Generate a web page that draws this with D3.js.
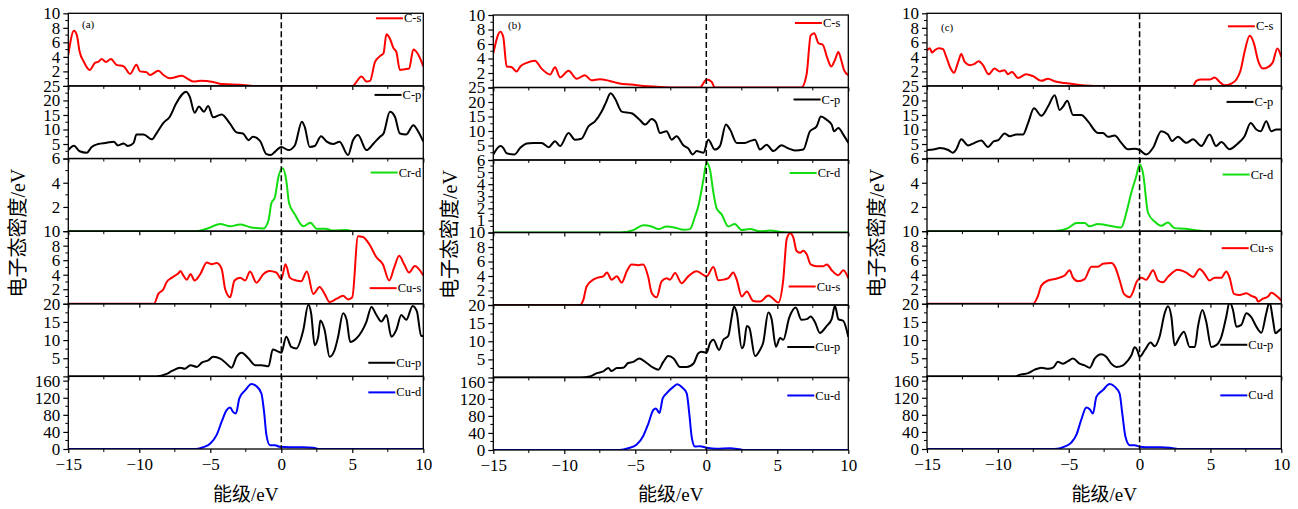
<!DOCTYPE html>
<html>
<head>
<meta charset="utf-8">
<script src="https://cdn.jsdelivr.net/npm/d3@7"></script>
<style>
  body { margin: 0; background: #fff; }
  svg { display: block; }
</style>
</head>
<body>
<svg id="chart"></svg>
<script>
// energy axis
const energyDomain = [-15, 10];
const xTicks = [-15, -10, -5, 0, 5, 10];
const xMinorTicks = [-12.5, -7.5, -2.5, 2.5, 7.5];

const orbitals = ["C-s", "C-p", "Cr-d", "Cu-s", "Cu-p", "Cu-d"];
const colors = ["#ff0000", "#000000", "#11dd11", "#ff0000", "#000000", "#0000ff"];
const yMax = [10, 25, 6, 10, 20, 170];
const yStepA = [2, 5, 2, 2, 5, 40];
const yStepB = [2, 5, 1, 2, 5, 40];

// ---- panel (a) ----
const csA = [[-15,4.3],[-14.6,7.6],[-14.4,7.0],[-14.2,4.7],[-13.9,3.3],[-13.5,2.2],[-13.1,3.2],[-12.9,3.3],[-12.65,3.7],[-12.35,3.3],[-12.0,3.7],[-11.6,2.9],[-11.1,2.7],[-10.65,1.65],[-10.2,2.9],[-9.95,2.0],[-9.5,1.9],[-9.25,1.5],[-8.65,2.1],[-8.3,1.5],[-7.85,1.05],[-7.0,1.4],[-6.65,1.05],[-6.2,0.6],[-5.7,0.7],[-4.8,0.55],[-4.2,0.25],[-3.4,0.2],[-2.55,0.1],[-2.0,0],[5.0,0],[5.65,1.3],[6.0,0.6],[6.25,0.7],[6.6,3.3],[6.95,4.1],[7.2,4.5],[7.4,7.1],[7.65,6.5],[7.9,5.2],[8.1,4.7],[8.35,2.2],[8.7,2.3],[9.0,2.4],[9.3,5.0],[9.65,4.3],[10,2.7]];
const cpA = [[-15,2.9],[-14.6,4.4],[-14.2,2.5],[-13.7,2.0],[-13.35,4.0],[-12.9,5.0],[-12.3,5.4],[-11.8,5.8],[-11.5,4.5],[-11.1,5.2],[-10.8,4.3],[-10.4,5.4],[-10.2,8.3],[-9.7,8.3],[-9.1,6.6],[-8.8,8.6],[-8.3,12.3],[-7.85,14.4],[-7.4,19],[-6.7,23],[-6.45,21.3],[-6.1,15.8],[-5.8,17.9],[-5.45,16.1],[-5.15,18.1],[-4.8,14.2],[-4.2,15.2],[-3.6,11.9],[-3.15,9.0],[-2.7,8.6],[-2.3,6.3],[-2.0,7.5],[-1.5,6.1],[-1.05,1.5],[-0.75,1.2],[-0.45,2.3],[0.0,4.0],[0.5,2.9],[0.95,4.5],[1.45,12.7],[1.65,10.9],[2.0,4.0],[2.35,4.3],[2.8,7.7],[3.2,5.8],[3.65,5.0],[4.1,5.8],[4.7,1.2],[5.05,6.3],[5.4,8.1],[6.0,2.9],[6.5,5.2],[6.95,7.5],[7.2,8.6],[7.65,16.1],[8.0,14.4],[8.35,8.6],[8.8,8.3],[9.3,11.5],[9.65,9.2],[10,5.8]];
const crdA = [[-15,0],[-6.0,0],[-5.25,0.2],[-4.3,0.6],[-3.6,0.4],[-2.9,0.55],[-2.2,0.33],[-1.25,0.22],[-0.9,0.9],[-0.7,2.3],[-0.45,2.8],[-0.2,4.5],[0.1,5.2],[0.35,4.2],[0.55,2.3],[0.95,1.4],[1.55,0.4],[2.05,0.7],[2.5,0.2],[3.1,0.2],[3.65,0.05],[4.6,0.1],[5.0,0],[10,0]];
const cusA = [[-15,0],[-8.97,0],[-8.66,1.36],[-8.3,2.0],[-8.07,3.0],[-7.7,3.6],[-7.25,4.2],[-7.1,4.5],[-6.9,3.9],[-6.65,3.3],[-6.4,4.1],[-6.1,3.2],[-5.7,4.1],[-5.25,5.7],[-4.9,5.45],[-4.55,5.6],[-4.2,4.8],[-3.95,2.0],[-3.6,0.9],[-3.3,3.2],[-2.9,3.6],[-2.55,3.2],[-2.2,4.45],[-1.75,2.9],[-1.25,4.1],[-0.85,4.5],[-0.35,4.3],[0,3.4],[0.3,5.45],[0.6,3.6],[1.05,3.2],[1.4,3.1],[1.8,4.45],[2.25,1.36],[2.7,2.3],[3.05,1.36],[3.4,0.23],[3.9,0.7],[4.35,1.1],[4.7,0.6],[5.0,0.9],[5.4,9.3],[5.75,9.2],[6.2,8.2],[6.7,6.4],[7.15,5.45],[7.6,3.2],[7.95,5.0],[8.3,6.6],[8.65,5.45],[9.0,4.3],[9.4,5.2],[10,3.9]];
const cupA = [[-15,0],[-8.8,0],[-8.07,0.7],[-7.7,1.5],[-7.1,2.4],[-6.8,2.1],[-6.4,3.1],[-5.95,2.6],[-5.6,3.8],[-5.15,4.4],[-4.8,5.4],[-4.3,4.9],[-3.85,3.5],[-3.5,2.4],[-3.15,5.4],[-2.8,6.5],[-2.3,4.9],[-1.85,3.1],[-1.4,3.1],[-0.9,2.8],[-0.6,7.4],[-0.25,6.9],[0,6.5],[0.35,10.9],[0.7,8.1],[1.05,7.7],[1.55,12.8],[1.9,19.7],[2.1,17.4],[2.35,8.6],[2.6,10.9],[2.75,15.4],[3.05,12.8],[3.4,5.4],[3.75,7.2],[4.0,10.9],[4.35,17.4],[4.6,15.6],[4.85,9.5],[5.3,10.5],[5.65,12.3],[6.0,15.1],[6.35,19.1],[6.7,16.9],[7.05,15.1],[7.4,16.9],[7.75,10.9],[8.1,12.8],[8.45,16.9],[8.8,15.6],[9.25,19.4],[9.55,17.9],[9.85,11.1],[10,11.1]];
const cudA = [[-15,0],[-6.0,0],[-5.5,4],[-5.0,13],[-4.55,33],[-4.2,64],[-3.85,91],[-3.6,97],[-3.4,87],[-3.2,83],[-2.95,119],[-2.55,137],[-2.1,152],[-1.75,147],[-1.4,130],[-1.2,83],[-1.05,33],[-0.8,9],[-0.45,9],[-0.1,5],[0.6,4],[1.55,4],[2.25,3],[2.7,0],[10,0]];

// ---- panel (b) ----
const csB = [[-15,4.7],[-14.5,7.7],[-14.3,7.0],[-14.06,2.9],[-13.7,2.8],[-13.36,2.2],[-13.1,2.9],[-12.65,3.4],[-12.07,3.7],[-11.6,2.6],[-11.0,1.8],[-10.65,2.8],[-10.3,1.4],[-9.7,2.3],[-9.13,1.2],[-8.55,1.7],[-8.1,1.0],[-7.5,1.15],[-6.8,0.9],[-6.1,0.55],[-5.26,0.4],[-4.4,0.2],[-3.5,0.1],[-2.3,0],[-0.45,0],[0.02,1.1],[0.37,0.8],[0.6,0],[6.7,0],[7.07,1.9],[7.35,7.2],[7.6,7.5],[7.9,6.1],[8.2,5.9],[8.5,4.2],[8.8,2.9],[9.06,3.8],[9.3,4.9],[9.5,3.8],[9.7,2.4],[10,1.7]];
const cpB = [[-15,1.9],[-14.5,4.8],[-14.3,4.2],[-14.06,2.3],[-13.5,1.9],[-13.1,4.2],[-12.65,5.7],[-12.2,5.9],[-11.6,5.9],[-11.1,4.4],[-10.65,6.5],[-10.3,4.8],[-9.7,9.3],[-9.25,7.0],[-8.8,7.3],[-8.3,11.6],[-7.84,13.3],[-7.37,16.7],[-7.07,19.8],[-6.74,23],[-6.43,21.2],[-5.96,16.7],[-5.26,16.1],[-4.7,13.9],[-4.3,12.2],[-3.85,14.1],[-3.55,13.0],[-3.26,9.3],[-2.8,9.9],[-2.44,7.0],[-2.1,8.2],[-1.6,5.0],[-1.27,4.0],[-0.96,1.9],[-0.68,3.1],[-0.2,2.5],[0.14,7.0],[0.6,3.6],[0.96,4.8],[1.38,12.2],[1.67,10.5],[2.14,5.9],[2.72,5.9],[3.07,6.5],[3.43,7.0],[3.78,3.6],[4.25,5.3],[4.72,3.1],[5.3,5.1],[5.77,4.0],[6.24,3.3],[6.83,3.6],[7.3,9.9],[7.77,11.6],[8.07,15],[8.47,13.9],[8.83,12.2],[9.0,9.9],[9.3,11.0],[9.65,8.75],[10,5.9]];
const crdB = [[-15,0],[-6.1,0],[-5.14,0.2],[-4.44,0.6],[-3.85,0.5],[-3.38,0.28],[-2.8,0.5],[-2.2,0.4],[-1.6,0.22],[-1.15,0.28],[-0.8,1.3],[-0.56,2.2],[-0.2,4.4],[0.02,5.8],[0.26,5.2],[0.5,3.3],[0.73,2.0],[1.08,1.5],[1.55,0.5],[2.0,0.7],[2.5,0.2],[3.08,0.28],[3.78,0.1],[4.5,0.16],[5.2,0.05],[5.66,0],[10,0]];
const cusB = [[-15,0],[-8.9,0],[-8.66,0.7],[-8.43,2.56],[-7.96,3.5],[-7.6,3.8],[-7.25,3.95],[-7.0,4.5],[-6.67,3.5],[-6.3,3.95],[-5.96,3.1],[-5.6,4.65],[-5.26,5.6],[-4.8,5.5],[-4.44,5.6],[-4.1,3.95],[-3.85,1.7],[-3.5,1.07],[-3.15,3.26],[-2.8,3.7],[-2.56,3.5],[-2.2,4.4],[-1.74,3.0],[-1.27,3.95],[-0.68,4.65],[0.02,3.95],[0.5,5.25],[0.85,3.4],[1.2,3.5],[1.55,3.7],[1.9,4.5],[2.14,3.5],[2.5,1.16],[2.85,1.86],[3.3,0.56],[3.78,0.47],[4.37,1.3],[4.72,0.84],[5.07,0.33],[5.42,3.5],[5.66,9.07],[5.9,9.9],[6.13,9.3],[6.36,7.44],[6.6,7.2],[6.83,7.5],[7.07,7.0],[7.35,5.6],[7.77,5.35],[8.24,5.35],[8.5,5.6],[8.83,4.8],[9.3,4.1],[9.65,4.8],[10,3.7]];
const cupB = [[-15,0],[-8.9,0],[-8.2,0.3],[-7.7,1.2],[-7.25,1.7],[-6.9,2.6],[-6.67,1.8],[-6.3,2.6],[-5.85,2.7],[-5.5,4.0],[-5.14,4.3],[-4.72,5.26],[-4.2,4.0],[-3.73,2.7],[-3.38,2.16],[-3.03,4.3],[-2.68,5.9],[-2.3,5.26],[-1.85,2.9],[-1.38,2.9],[-0.9,3.85],[-0.56,6.7],[-0.33,7.1],[0.02,6.85],[0.26,9.5],[0.5,10.4],[0.9,7.6],[1.2,10.4],[1.55,11.5],[1.78,16.5],[1.95,19.6],[2.14,17.9],[2.5,8.1],[2.65,9.0],[2.85,14.2],[3.03,13.7],[3.43,5.9],[3.78,7.6],[4.0,9.5],[4.37,17.9],[4.6,16.1],[4.9,8.5],[5.2,10.9],[5.42,10.4],[5.84,16.5],[6.3,19.3],[6.7,15.9],[7.07,16.1],[7.35,16.8],[7.65,15.3],[8.0,12.3],[8.47,14.2],[8.83,16.1],[9.06,19.8],[9.3,16.1],[9.65,15.6],[10,11.2]];
const cudB = [[-15,0],[-6.1,0],[-5.5,4],[-4.9,13],[-4.44,33],[-4.08,62],[-3.73,94],[-3.55,97.5],[-3.3,87],[-3.07,121],[-2.8,133],[-2.32,148],[-2.04,154],[-1.74,148],[-1.38,133],[-1.2,86],[-1.03,31],[-0.8,8],[-0.45,9],[0.02,5.5],[0.73,3],[1.67,4],[2.37,1.5],[2.72,0],[10,0]];

// ---- panel (c) ----
const csC = [[-15,4.9],[-14.8,5.2],[-14.65,4.6],[-14.46,4.9],[-14.18,5.2],[-13.87,5.07],[-13.64,4.0],[-13.33,2.4],[-13.1,1.8],[-12.8,3.3],[-12.58,4.4],[-12.34,3.3],[-11.99,2.86],[-11.68,3.0],[-11.35,3.4],[-11.05,2.86],[-10.65,1.6],[-10.23,2.4],[-9.87,2.0],[-9.52,2.16],[-9.29,1.6],[-9.0,1.93],[-8.58,1.1],[-8.0,1.6],[-7.52,1.34],[-6.93,0.7],[-6.46,1.0],[-6.0,0.65],[-5.3,0.4],[-4.6,0.23],[-3.88,0.05],[-3.17,0],[3.77,0],[4.0,0.7],[4.36,0.88],[4.94,0.88],[5.3,1.15],[5.65,0.55],[6.0,0.1],[6.47,0.32],[6.83,0.88],[7.13,2.16],[7.41,4.7],[7.77,6.9],[8.07,5.85],[8.35,3.55],[8.7,2.4],[9.06,2.6],[9.41,3.3],[9.72,5.16],[10,4.0]];
const cpC = [[-15,2.94],[-14.46,3.2],[-14.1,3.6],[-13.5,2.94],[-13.17,2.0],[-12.93,3.2],[-12.58,6.6],[-12.1,4.5],[-11.64,5.4],[-11.17,6.2],[-10.7,4.0],[-10.27,6.0],[-9.99,6.3],[-9.52,8.6],[-9.17,7.7],[-8.7,8.26],[-8.23,8.26],[-7.87,12.2],[-7.45,17.3],[-6.93,14.7],[-6.46,17.9],[-5.99,21.8],[-5.64,16.7],[-5.4,17.9],[-5.1,19.9],[-4.7,15.0],[-4.11,15.0],[-3.64,12.8],[-2.94,8.8],[-2.58,8.8],[-2.23,7.5],[-1.76,7.9],[-1.29,5.4],[-0.82,3.2],[-0.35,3.4],[0.0,2.94],[0.47,1.36],[0.95,3.7],[1.53,9.4],[2.0,8.26],[2.29,6.0],[2.7,7.5],[3.3,5.4],[3.77,6.6],[4.36,4.3],[4.94,8.26],[5.4,4.3],[5.77,5.7],[6.35,3.2],[6.94,5.2],[7.41,7.7],[7.84,12.2],[8.24,10.0],[8.54,9.4],[8.94,12.8],[9.29,9.4],[9.65,10.0],[10,10.0]];
const crdC = [[-15,0],[-6.0,0],[-5.05,0.25],[-4.46,0.67],[-3.88,0.67],[-3.52,0.4],[-2.94,0.6],[-2.23,0.47],[-1.3,0.3],[-0.94,1.5],[-0.58,3.2],[-0.23,4.55],[0.0,5.5],[0.24,4.8],[0.6,1.5],[1.06,0.8],[1.53,0.44],[2.0,0.72],[2.47,0.25],[3.18,0.2],[4.12,0.05],[4.6,0],[10,0]];
const cusC = [[-15,0],[-7.52,0],[-7.17,1.1],[-6.93,2.5],[-6.46,3.2],[-5.99,3.4],[-5.64,3.6],[-5.29,3.9],[-4.93,4.6],[-4.7,3.6],[-4.35,3.1],[-3.88,3.4],[-3.4,5.1],[-2.94,5.1],[-2.58,5.5],[-1.99,5.6],[-1.71,5.0],[-1.4,3.2],[-1.1,1.36],[-0.7,0.9],[-0.47,1.6],[-0.23,2.95],[0.12,3.6],[0.47,3.3],[0.64,3.7],[0.95,4.6],[1.3,3.2],[1.65,2.95],[2.0,3.7],[2.7,4.7],[3.3,4.3],[3.77,3.7],[4.24,4.8],[4.59,4.1],[4.94,3.2],[5.3,3.6],[5.77,3.6],[6.12,4.45],[6.35,3.6],[6.66,1.36],[7.06,1.2],[7.53,1.45],[7.88,1.1],[8.24,0.77],[8.35,0.3],[8.7,0.7],[9.06,1.0],[9.3,1.5],[9.65,1.1],[10,0.45]];
const cupC = [[-15,0],[-8.8,0],[-8.35,0.55],[-7.87,0.9],[-7.4,1.85],[-6.93,2.4],[-6.46,2.1],[-6.1,2.4],[-5.76,4.0],[-5.4,3.5],[-5.05,4.2],[-4.7,4.9],[-4.23,3.5],[-3.88,3.05],[-3.52,2.4],[-3.17,4.9],[-2.7,6.1],[-2.35,5.4],[-2.0,3.5],[-1.64,2.6],[-1.17,3.05],[-0.82,4.4],[-0.58,5.8],[-0.35,8.0],[-0.16,7.2],[0.0,5.4],[0.36,7.2],[0.78,9.3],[1.06,8.3],[1.41,10.9],[1.77,17.4],[2.0,19.3],[2.24,16.5],[2.47,8.6],[2.83,10.9],[3.13,12.3],[3.53,8.1],[3.9,8.1],[4.12,13.7],[4.43,18.3],[4.7,15.1],[5.06,8.1],[5.41,8.6],[5.77,10.9],[6.12,16.5],[6.35,20.5],[6.59,18.3],[6.83,13.7],[7.18,14.2],[7.53,17.4],[7.88,16.3],[8.24,13.7],[8.59,12.0],[8.94,17.4],[9.17,20.5],[9.41,15.6],[9.58,11.85],[9.88,12.8],[10,13.2]];
const cudC = [[-15,0],[-6.0,0],[-5.3,5.5],[-4.82,15],[-4.46,33],[-4.11,69],[-3.76,97],[-3.52,93],[-3.29,83],[-3.05,122],[-2.58,138],[-2.11,152],[-1.76,146],[-1.41,130],[-1.22,83],[-1.0,29],[-0.7,9],[-0.35,9],[0.0,5.5],[0.83,4],[1.53,4],[2.24,2.3],[2.83,0],[10,0]];

// layout of the three figures
const panels = [
  { tag: "(a)", x0: 68.3, x1: 423.3, top: 13.3, bottom: 449, ylabX: 18, tagX: 82, tagY: 28,
    series: [csA, cpA, crdA, cusA, cupA, cudA], steps: yStepA,
    legendY: [5, 9, 14, 57, 59, 16], legendInset: 2 },
  { tag: "(b)", x0: 493.3, x1: 848.3, top: 15, bottom: 450, ylabX: 450, tagX: 508, tagY: 29,
    series: [csB, cpB, crdB, cusB, cupB, cudB], steps: yStepB,
    legendY: [8, 12, 13, 54, 42, 18], legendInset: 8 },
  { tag: "(c)", x0: 927, x1: 1281.3, top: 13.3, bottom: 449, ylabX: 877, tagX: 941, tagY: 31,
    series: [csC, cpC, crdC, cusC, cupC, cudC], steps: yStepA,
    legendY: [13, 16, 16, 17, 41, 19], legendInset: 8 }
];

const W = 1298, H = 509;
const svg = d3.select("#chart").attr("width", W).attr("height", H);
const serif = "Liberation Serif, Times New Roman, serif";
const mixed = "Liberation Serif, Noto Sans CJK SC, serif";

panels.forEach(function (p, pi) {
  const x = d3.scaleLinear().domain(energyDomain).range([p.x0, p.x1]);
  const h = (p.bottom - p.top) / orbitals.length;

  p.series.forEach(function (data, i) {
    const y0 = p.top + i * h;
    const y = d3.scaleLinear().domain([0, yMax[i]]).range([y0 + h, y0]);
    const g = svg.append("g");
    const clipId = "clip" + pi + "_" + i;

    svg.append("clipPath").attr("id", clipId)
      .append("rect").attr("x", p.x0).attr("y", y0).attr("width", p.x1 - p.x0).attr("height", h);

    const line = d3.line()
      .x(d => x(d[0]))
      .y(d => y(d[1]))
      .curve(d3.curveMonotoneX);

    g.append("path")
      .datum(data)
      .attr("clip-path", "url(#" + clipId + ")")
      .attr("fill", "none")
      .attr("stroke", colors[i])
      .attr("stroke-width", 2)
      .attr("stroke-linejoin", "round")
      .attr("d", line);

    // left axis
    const step = p.steps[i];
    const majors = d3.range(0, yMax[i] + 0.001, step);
    const minors = d3.range(step / 2, yMax[i], step);
    const last = i === orbitals.length - 1;
    const yAxis = d3.axisLeft(y)
      .tickValues(majors)
      .tickSize(5)
      .tickPadding(3)
      .tickFormat(d => (d === 0 && !last) ? "" : d3.format("d")(d));
    const ag = g.append("g").attr("transform", `translate(${p.x0},0)`).call(yAxis)
      .attr("font-family", serif).attr("font-size", 17);
    ag.select(".domain").remove();
    ag.selectAll("line").attr("stroke", "#000").attr("stroke-width", 1.2);
    ag.selectAll("text").attr("fill", "#000");
    g.selectAll(".yminor")
      .data(minors)
      .join("line")
      .attr("x1", p.x0 - 3).attr("x2", p.x0)
      .attr("y1", d => y(d)).attr("y2", d => y(d))
      .attr("stroke", "#000").attr("stroke-width", 1);

    // bottom ticks of every sub-plot
    const xAxis = d3.axisBottom(x)
      .tickValues(xTicks)
      .tickSize(4)
      .tickPadding(5)
      .tickFormat(last ? d3.format("d") : "");
    const bg = g.append("g").attr("transform", `translate(0,${y0 + h})`).call(xAxis)
      .attr("font-family", serif).attr("font-size", 17);
    bg.select(".domain").remove();
    bg.selectAll("line").attr("stroke", "#000").attr("stroke-width", 1.2);
    bg.selectAll("text").attr("fill", "#000");
    g.selectAll(".xminor")
      .data(xMinorTicks)
      .join("line")
      .attr("x1", d => x(d)).attr("x2", d => x(d))
      .attr("y1", y0 + h).attr("y2", y0 + h + 3)
      .attr("stroke", "#000").attr("stroke-width", 1);

    // frame
    g.append("rect")
      .attr("x", p.x0).attr("y", y0)
      .attr("width", p.x1 - p.x0).attr("height", h)
      .attr("fill", "none").attr("stroke", "#000").attr("stroke-width", 1.3);

    // legend
    const ly = y0 + p.legendY[i];
    const lt = g.append("text")
      .attr("x", p.x1 - p.legendInset)
      .attr("y", ly + 4)
      .attr("text-anchor", "end")
      .attr("font-family", serif)
      .attr("font-size", 12.5)
      .text(orbitals[i]);
    const tw = lt.node().getComputedTextLength();
    g.append("line")
      .attr("x1", p.x1 - p.legendInset - tw - 28)
      .attr("x2", p.x1 - p.legendInset - tw - 1)
      .attr("y1", ly).attr("y2", ly)
      .attr("stroke", colors[i]).attr("stroke-width", 2);
  });

  // Fermi level
  svg.append("line")
    .attr("x1", x(0)).attr("x2", x(0))
    .attr("y1", p.top).attr("y2", p.bottom)
    .attr("stroke", "#000").attr("stroke-width", 1.5)
    .attr("stroke-dasharray", "6,3");

  svg.append("text")
    .attr("x", p.tagX).attr("y", p.tagY)
    .attr("font-family", serif).attr("font-size", 11)
    .text(p.tag);

  svg.append("text")
    .attr("transform", `translate(${p.ylabX + 7},${(p.top + p.bottom) / 2 + 2}) rotate(-90)`)
    .attr("text-anchor", "middle")
    .attr("font-family", mixed).attr("font-size", 20)
    .text("电子态密度/eV");

  svg.append("text")
    .attr("x", (p.x0 + p.x1) / 2).attr("y", 501)
    .attr("text-anchor", "middle")
    .attr("font-family", mixed).attr("font-size", 19)
    .text("能级/eV");
});
</script>
</body>
</html>
